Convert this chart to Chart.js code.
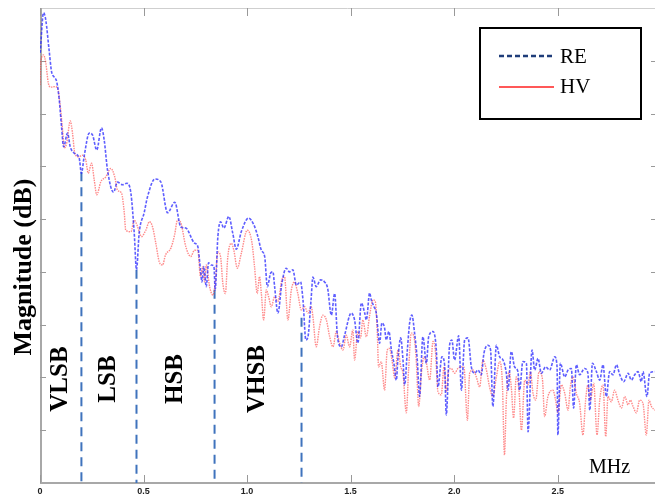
<!DOCTYPE html>
<html lang="en">
<head>
<meta charset="UTF-8">
<script src="https://cdn.jsdelivr.net/npm/chart.js"></script>
<style>
  html, body { margin: 0; padding: 0; background: #fff; overflow: hidden; }
  #wrap { width: 655px; height: 495px; }
</style>
<title>RE vs HV spectrum</title>
</head>
<body>
<div id="wrap"><canvas id="spec" width="655" height="495"></canvas></div>
<script>
// RE curve (MHz, dB)
const reFreq = [0.001,0.017,0.028,0.044,0.056,0.069,0.081,0.093,0.104,0.114,0.133,0.146,0.165,0.189,0.200,0.214,0.238,0.254,0.274,0.297,
  0.310,0.326,0.355,0.374,0.399,0.419,0.439,0.455,0.466,0.479,0.503,0.519,0.555,0.584,0.616,0.651,0.680,0.704,0.745,0.762,
  0.775,0.782,0.791,0.803,0.814,0.827,0.840,0.846,0.859,0.872,0.888,0.912,0.931,0.948,0.972,1.007,1.033,1.052,1.069,1.085,
  1.098,1.114,1.125,1.133,1.149,1.168,1.189,1.205,1.221,1.238,1.258,1.270,1.284,1.294,1.309,1.318,1.334,1.355,1.374,1.389,
  1.407,1.423,1.436,1.455,1.471,1.503,1.519,1.535,1.552,1.568,1.576,1.592,1.600,1.613,1.624,1.640,1.651,1.664,1.672,1.685,
  1.697,1.709,1.721,1.728,1.742,1.753,1.761,1.774,1.785,1.796,1.809,1.822,1.833,1.849,1.866,1.877,1.898,1.914,1.922,1.941,
  1.954,1.962,1.978,1.989,2.002,2.022,2.035,2.051,2.067,2.083,2.099,2.115,2.131,2.144,2.163,2.176,2.187,2.204,2.220,2.236,
  2.252,2.260,2.276,2.292,2.308,2.316,2.332,2.349,2.357,2.376,2.389,2.405,2.421,2.442,2.461,2.486,2.497,2.501,2.513,2.534,
  2.550,2.566,2.577,2.590,2.606,2.630,2.646,2.655,2.668,2.687,2.703,2.719,2.735,2.751,2.767,2.784,2.800,2.819,2.840,2.856,
  2.872,2.888,2.904,2.912,2.931,2.944,2.969];
const reMag = [-8.5,-0.9,-2.3,-8.0,-12.1,-13.1,-14.0,-17.4,-22.5,-26.3,-23.7,-26.3,-27.5,-28.4,-31.3,-27.9,-23.7,-24.1,-26.9,-22.7,
  -25.0,-30.7,-34.9,-33.0,-33.5,-33.2,-35.1,-42.6,-49.6,-42.6,-38.8,-35.8,-32.4,-33.0,-38.8,-36.8,-41.5,-41.7,-44.5,-45.2,
  -49.6,-51.9,-49.0,-52.8,-48.3,-48.7,-49.0,-53.4,-43.3,-40.5,-41.7,-39.5,-42.7,-45.7,-42.4,-39.8,-41.1,-43.3,-45.9,-47.1,
  -52.8,-50.2,-50.0,-52.8,-57.8,-52.2,-49.3,-50.0,-49.6,-52.5,-51.9,-55.3,-62.9,-62.3,-55.3,-51.0,-52.8,-51.5,-51.9,-53.1,
  -58.2,-54.1,-62.0,-64.2,-62.0,-57.8,-59.1,-63.5,-55.9,-57.8,-59.1,-54.0,-55.3,-56.6,-57.8,-63.5,-59.7,-60.6,-62.9,-61.3,
  -64.8,-67.3,-70.5,-66.7,-62.5,-66.7,-71.4,-64.8,-59.7,-58.2,-61.6,-66.7,-73.6,-62.3,-67.3,-62.3,-61.3,-64.8,-71.8,-66.1,
  -67.6,-77.1,-63.9,-62.9,-66.7,-62.1,-72.4,-62.9,-62.5,-68.0,-69.2,-68.6,-69.5,-65.4,-63.9,-64.8,-75.5,-63.9,-66.1,-66.7,
  -69.2,-72.4,-65.1,-68.0,-68.9,-72.4,-67.0,-67.3,-80.3,-64.8,-68.6,-66.4,-69.2,-68.0,-68.6,-66.1,-68.0,-80.9,-67.3,-69.9,
  -68.6,-68.3,-75.8,-67.6,-69.5,-68.3,-69.2,-76.2,-67.3,-68.9,-70.5,-67.6,-73.6,-68.9,-69.5,-67.6,-69.5,-70.8,-69.2,-70.5,
  -69.5,-68.9,-70.8,-68.9,-73.6,-69.2,-68.9];

// HV curve (MHz, dB)
const hvFreq = [0.000,0.004,0.017,0.028,0.040,0.052,0.071,0.085,0.098,0.109,0.117,0.129,0.146,0.157,0.168,0.185,0.205,0.221,0.233,0.249,
  0.262,0.274,0.294,0.318,0.342,0.361,0.374,0.394,0.407,0.414,0.439,0.455,0.471,0.490,0.511,0.528,0.543,0.559,0.576,0.592,
  0.606,0.632,0.650,0.664,0.680,0.704,0.728,0.746,0.762,0.775,0.786,0.795,0.803,0.819,0.835,0.846,0.859,0.872,0.883,0.895,
  0.907,0.924,0.936,0.953,0.972,1.001,1.023,1.036,1.049,1.060,1.069,1.080,1.093,1.104,1.117,1.133,1.149,1.168,1.181,1.197,
  1.214,1.229,1.245,1.262,1.278,1.294,1.310,1.318,1.334,1.350,1.366,1.383,1.399,1.415,1.431,1.447,1.463,1.479,1.495,1.511,
  1.519,1.535,1.548,1.559,1.576,1.592,1.608,1.619,1.629,1.635,1.648,1.664,1.677,1.688,1.700,1.713,1.729,1.742,1.753,1.769,
  1.780,1.793,1.806,1.817,1.829,1.842,1.854,1.866,1.882,1.898,1.909,1.922,1.938,1.951,1.962,1.973,1.986,2.002,2.018,2.035,
  2.047,2.064,2.075,2.091,2.107,2.123,2.139,2.156,2.171,2.187,2.204,2.220,2.233,2.243,2.252,2.265,2.276,2.287,2.300,2.313,
  2.325,2.341,2.357,2.368,2.381,2.394,2.410,2.426,2.437,2.453,2.477,2.490,2.501,2.518,2.534,2.550,2.561,2.574,2.590,2.606,
  2.622,2.635,2.646,2.658,2.674,2.690,2.703,2.719,2.732,2.743,2.759,2.775,2.791,2.808,2.824,2.840,2.851,2.864,2.880,2.896,
  2.912,2.928,2.941,2.953,2.969];
const hvMag = [-14.6,-10.2,-8.9,-10.4,-14.2,-15.0,-14.9,-15.2,-18.7,-23.1,-26.5,-25.6,-21.4,-23.7,-27.5,-28.2,-27.9,-28.8,-31.3,-29.4,
  -32.6,-35.4,-32.9,-32.0,-30.4,-32.0,-34.5,-35.1,-38.8,-42.1,-42.4,-40.2,-41.4,-43.3,-42.1,-40.5,-41.4,-44.5,-48.1,-48.7,
  -46.8,-45.5,-43.0,-40.2,-40.7,-45.2,-47.1,-45.9,-45.9,-50.9,-49.0,-51.9,-48.7,-52.8,-54.4,-52.2,-46.2,-47.1,-52.2,-54.1,
  -47.1,-44.6,-45.9,-49.3,-46.5,-42.1,-44.3,-49.0,-54.1,-50.9,-54.1,-59.1,-53.4,-54.7,-56.6,-54.7,-55.6,-51.5,-50.9,-59.1,
  -53.4,-51.9,-54.1,-57.2,-56.6,-57.8,-56.6,-58.5,-64.2,-60.4,-58.2,-59.1,-62.3,-64.2,-61.3,-63.5,-64.8,-62.0,-64.2,-61.0,
  -66.7,-61.3,-62.5,-59.1,-62.3,-58.2,-55.3,-55.6,-61.6,-68.0,-67.0,-72.4,-64.8,-64.5,-66.7,-70.1,-64.8,-68.0,-69.2,-76.7,
  -68.6,-61.6,-62.3,-66.7,-75.5,-69.2,-66.1,-67.3,-70.5,-63.2,-64.8,-72.7,-73.3,-68.0,-72.7,-68.6,-68.3,-69.2,-68.3,-68.0,
  -68.0,-78.1,-69.2,-68.6,-69.9,-71.8,-66.7,-68.6,-71.8,-73.6,-69.9,-67.0,-71.1,-84.7,-74.3,-68.9,-71.8,-77.7,-69.9,-72.4,
  -80.0,-70.5,-71.4,-68.9,-73.0,-74.3,-68.9,-70.2,-77.4,-73.6,-72.4,-74.3,-76.7,-71.4,-73.0,-76.2,-71.8,-69.9,-73.0,-74.9,
  -80.9,-74.3,-71.4,-74.3,-71.1,-80.9,-74.3,-71.4,-81.2,-73.6,-74.6,-72.4,-74.3,-75.8,-73.6,-75.2,-74.3,-75.5,-76.7,-74.3,
  -74.9,-80.9,-74.3,-75.5,-76.2];

// band edges (MHz) and where each dashed marker starts (dB)
const edgeFreq = [0.200, 0.466, 0.843, 1.263];
const edgeTop = [-31.1, -49.6, -53.4, -58.7];
const bandNames = ['VLSB', 'LSB', 'HSB', 'VHSB'];
const xTicks = [0, 0.5, 1, 1.5, 2, 2.5];

const Y_MIN = -90, Y_MAX = 0;

function pts(xs, ys) {
    return xs.map((x, i) => ({ x: x, y: ys[i] }));
}

const datasets = [
    {
        label: 'RE',
        data: pts(reFreq, reMag),
        borderColor: 'rgba(40, 40, 255, 0.75)',
        borderWidth: 1.6,
        borderDash: [3, 1.5],
        pointRadius: 0,
        cubicInterpolationMode: 'monotone'
    },
    {
        label: 'HV',
        data: pts(hvFreq, hvMag),
        borderColor: 'rgba(255, 60, 60, 0.6)',
        borderWidth: 1.4,
        borderDash: [1.5, 1],
        pointRadius: 0,
        cubicInterpolationMode: 'monotone'
    }
];
edgeFreq.forEach((f, i) => {
    datasets.push({
        label: 'edge' + i,
        data: [{ x: f, y: edgeTop[i] }, { x: f, y: Y_MIN }],
        borderColor: '#3f73bd',
        borderWidth: 2,
        borderDash: [9, 6],
        pointRadius: 0
    });
});

// frame, inward ticks, labels, legend
const decor = {
    id: 'decor',
    beforeDatasetsDraw(chart) {
        const { ctx, chartArea: a, scales } = chart;
        ctx.save();
        ctx.strokeStyle = '#cfcfcf';
        ctx.lineWidth = 1;
        ctx.beginPath();
        ctx.moveTo(a.left, a.top + 0.5);
        ctx.lineTo(a.right, a.top + 0.5);
        ctx.stroke();
        ctx.strokeStyle = '#a8a8a8';
        ctx.lineWidth = 2;
        ctx.beginPath();
        ctx.moveTo(a.left + 1, a.top);
        ctx.lineTo(a.left + 1, a.bottom);
        ctx.lineTo(a.right, a.bottom);
        ctx.stroke();
        ctx.strokeStyle = '#999';
        ctx.lineWidth = 1;
        xTicks.forEach(v => {
            const px = Math.round(scales.x.getPixelForValue(v)) + 0.5;
            ctx.beginPath();
            ctx.moveTo(px, a.bottom);
            ctx.lineTo(px, a.bottom - 8);
            ctx.moveTo(px, a.top);
            ctx.lineTo(px, a.top + 8);
            ctx.stroke();
        });
        for (let v = Y_MIN + 10; v < Y_MAX; v += 10) {
            const py = Math.round(scales.y.getPixelForValue(v)) + 0.5;
            ctx.beginPath();
            ctx.moveTo(a.left, py);
            ctx.lineTo(a.left + 6, py);
            ctx.moveTo(a.right, py);
            ctx.lineTo(a.right - 4, py);
            ctx.stroke();
        }
        ctx.restore();
    },
    afterDraw(chart) {
        const { ctx, chartArea: a, scales } = chart;
        ctx.save();
        ctx.fillStyle = '#000';
        ctx.textAlign = 'center';
        ctx.textBaseline = 'middle';

        // y title
        ctx.save();
        ctx.translate(24, 267);
        ctx.rotate(-Math.PI / 2);
        ctx.font = 'bold 26px "Liberation Serif", "Times New Roman", serif';
        ctx.fillText('Magnitude (dB)', 0, 0);
        ctx.restore();

        // band names, centred between edges
        ctx.font = 'bold 25px "Liberation Serif", "Times New Roman", serif';
        const bounds = [0].concat(edgeFreq);
        bandNames.forEach((name, i) => {
            const px = scales.x.getPixelForValue((bounds[i] + bounds[i + 1]) / 2);
            const py = scales.y.getPixelForValue(-70.3);
            ctx.save();
            ctx.translate(px, py);
            ctx.rotate(-Math.PI / 2);
            ctx.fillText(name, 0, 0);
            ctx.restore();
        });

        // unit
        ctx.font = '20px "Liberation Serif", "Times New Roman", serif';
        ctx.textAlign = 'left';
        ctx.textBaseline = 'alphabetic';
        ctx.fillText('MHz', 589, 473);

        // legend box
        ctx.strokeStyle = '#000';
        ctx.lineWidth = 2;
        ctx.strokeRect(480, 28, 161, 91);
        const ds = chart.data.datasets;
        ctx.lineWidth = 2.5;
        ctx.strokeStyle = '#1f3d7a';
        ctx.setLineDash([5, 3]);
        ctx.beginPath();
        ctx.moveTo(499, 56);
        ctx.lineTo(554, 56);
        ctx.stroke();
        ctx.setLineDash([]);
        ctx.lineWidth = 1.5;
        ctx.strokeStyle = '#ff2020';
        ctx.beginPath();
        ctx.moveTo(499, 87);
        ctx.lineTo(554, 87);
        ctx.stroke();
        ctx.font = '21px "Liberation Serif", "Times New Roman", serif';
        ctx.textBaseline = 'middle';
        ctx.fillText(ds[0].label, 560, 57);
        ctx.fillText(ds[1].label, 560, 87);
        ctx.restore();
    }
};

new Chart(document.getElementById('spec'), {
    type: 'line',
    data: { datasets: datasets },
    options: {
        responsive: false,
        animation: false,
        layout: { padding: { top: 8, right: 0, bottom: 0, left: 0 } },
        plugins: { legend: { display: false }, tooltip: { enabled: false } },
        scales: {
            x: {
                type: 'linear',
                min: 0,
                max: 2.97,
                grid: { display: false, drawTicks: false },
                border: { display: false },
                ticks: {
                    stepSize: 0.5,
                    includeBounds: false,
                    padding: 3,
                    color: '#222',
                    font: { family: 'Arial, "Liberation Sans", sans-serif', size: 9, weight: 'bold' },
                    maxRotation: 0
                },
                afterFit: s => { s.height = 12; }
            },
            y: {
                min: Y_MIN,
                max: Y_MAX,
                grid: { display: false, drawTicks: false },
                border: { display: false },
                ticks: { display: false, stepSize: 10 },
                afterFit: s => { s.width = 40; }
            }
        }
    },
    plugins: [decor]
});
</script>
</body>
</html>
